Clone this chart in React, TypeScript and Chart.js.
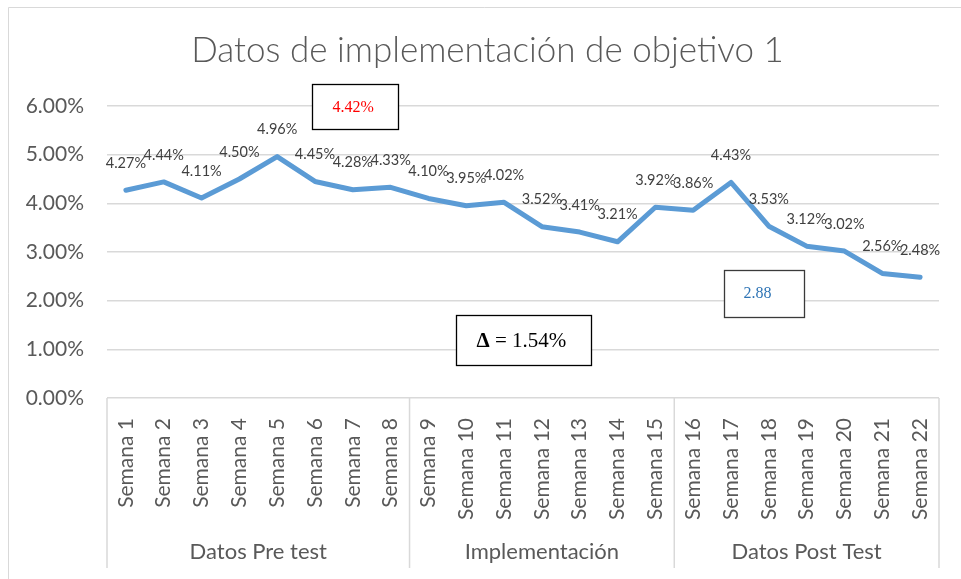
import React, { useEffect, useRef } from "react";
import { Chart, registerables } from "chart.js";

Chart.register(...registerables);

const TITLE = "Datos de implementación de objetivo 1";
const weeks = [
  "Semana 1", "Semana 2", "Semana 3", "Semana 4", "Semana 5", "Semana 6", "Semana 7", "Semana 8",
  "Semana 9", "Semana 10", "Semana 11", "Semana 12", "Semana 13", "Semana 14", "Semana 15",
  "Semana 16", "Semana 17", "Semana 18", "Semana 19", "Semana 20", "Semana 21", "Semana 22",
];
const values = [
  4.27, 4.44, 4.11, 4.5, 4.96, 4.45, 4.28, 4.33,
  4.1, 3.95, 4.02, 3.52, 3.41, 3.21, 3.92,
  3.86, 4.43, 3.53, 3.12, 3.02, 2.56, 2.48,
];
const groupNames = ["Datos Pre test", "Implementación", "Datos Post Test"];
const groupSizes = [8, 7, 7];
const yMin = 0;
const yMax = 6;
const yStep = 1;
const noteTexts = ["4.42%", "Δ", "= 1.54%", "2.88"];

const GRID = "#D9D9D9";
const AXIS_TEXT = "#595959";
const LABEL_TEXT = "#404040";
const SANS = "Lato, 'Open Sans', sans-serif";
const SERIF = "'Liberation Serif', 'Times New Roman', serif";

const fmt = (v: number) => v.toFixed(2) + "%";

const decorPlugin = {
  id: "decor",
  beforeDraw(chart: any) {
    const ctx = chart.ctx;
    ctx.save();
    ctx.fillStyle = "#ffffff";
    ctx.fillRect(0, 0, chart.width, chart.height);
    ctx.strokeStyle = GRID;
    ctx.lineWidth = 1;
    ctx.beginPath();
    ctx.moveTo(8.5, chart.height);
    ctx.lineTo(8.5, 7.5);
    ctx.lineTo(chart.width, 7.5);
    ctx.stroke();
    // title
    ctx.fillStyle = AXIS_TEXT;
    ctx.font = `300 35px ${SANS}`;
    ctx.textAlign = "center";
    ctx.textBaseline = "alphabetic";
    ctx.fillText(TITLE, 487.5, 62);
    ctx.restore();
  },
  afterDraw(chart: any) {
    const ctx = chart.ctx;
    const xs = chart.scales.x;
    const ys = chart.scales.y;
    const area = chart.chartArea;
    ctx.save();
    // group separators and labels
    const bounds: number[] = [area.left];
    let idx = 0;
    groupSizes.forEach((n) => {
      idx += n;
      bounds.push(idx >= weeks.length ? area.right : (xs.getPixelForValue(idx - 1) + xs.getPixelForValue(idx)) / 2);
    });
    ctx.strokeStyle = GRID;
    ctx.lineWidth = 1.5;
    bounds.forEach((b) => {
      ctx.beginPath();
      ctx.moveTo(b, area.bottom);
      ctx.lineTo(b, area.bottom + 170);
      ctx.stroke();
    });
    ctx.fillStyle = AXIS_TEXT;
    ctx.font = `22px ${SANS}`;
    ctx.textAlign = "center";
    ctx.textBaseline = "middle";
    groupNames.forEach((g, i) => {
      ctx.fillText(g, (bounds[i] + bounds[i + 1]) / 2, area.bottom + 154);
    });

    // data labels
    const meta = chart.getDatasetMeta(0);
    ctx.fillStyle = LABEL_TEXT;
    ctx.font = `14.5px ${SANS}`;
    meta.data.forEach((pt: any, i: number) => {
      ctx.fillText(fmt(values[i]), pt.x, pt.y - 27);
    });

    // note boxes (anchored in data space)
    const box = (cx: number, cy: number, w: number, h: number, stroke: string) => {
      const x = xs.getPixelForValue(cx);
      const y = ys.getPixelForValue(cy);
      const l = Math.round(x - w / 2) + 0.5;
      const t = Math.round(y - h / 2) + 0.5;
      ctx.fillStyle = "#ffffff";
      ctx.fillRect(l, t, w, h);
      ctx.strokeStyle = stroke;
      ctx.lineWidth = 1.3;
      ctx.strokeRect(l, t, w, h);
      return { l, t, w, h };
    };
    ctx.textAlign = "left";
    ctx.textBaseline = "middle";

    const b1 = box(6.06, 5.98, 86, 45, "#000000");
    ctx.fillStyle = "#FF0000";
    ctx.font = `16px ${SERIF}`;
    ctx.fillText(noteTexts[0], b1.l + 20, b1.t + b1.h / 2 + 1);

    const b2 = box(10.51, 1.19, 135, 50, "#000000");
    ctx.fillStyle = "#000000";
    ctx.font = `bold 21px ${SERIF}`;
    ctx.fillText(noteTexts[1], b2.l + 20, b2.t + b2.h / 2 + 1);
    const dw = ctx.measureText(noteTexts[1]).width;
    ctx.font = `21px ${SERIF}`;
    ctx.fillText(" " + noteTexts[2], b2.l + 20 + dw, b2.t + b2.h / 2 + 1);

    const b3 = box(16.87, 2.145, 80, 47, "#3A3A3A");
    ctx.fillStyle = "#2E74B5";
    ctx.font = `16px ${SERIF}`;
    ctx.fillText(noteTexts[3], b3.l + 19, b3.t + b3.h / 2);
    ctx.restore();
  },
};

export default function App() {
  const ref = useRef<HTMLCanvasElement | null>(null);
  useEffect(() => {
    if (!ref.current) return;
    const chart = new Chart(ref.current, {
      type: "line",
      data: {
        labels: weeks,
        datasets: [
          {
            data: values,
            borderColor: "#5B9BD5",
            backgroundColor: "#5B9BD5",
            borderWidth: 5,
            pointRadius: 0,
            pointHoverRadius: 0,
            tension: 0,
            borderJoinStyle: "round",
            borderCapStyle: "round",
          },
        ],
      },
      options: {
        responsive: false,
        animation: false,
        devicePixelRatio: 1,
        layout: { padding: { left: 0, top: 106, right: 22, bottom: 0 } },
        plugins: { legend: { display: false }, title: { display: false }, tooltip: { enabled: false } },
        scales: {
          x: {
            offset: true,
            grid: { display: false, drawTicks: false, offset: true },
            border: { display: false },
            ticks: {
              autoSkip: false,
              minRotation: 90,
              maxRotation: 90,
              padding: 20,
              color: AXIS_TEXT,
              font: { family: SANS, size: 21 },
            },
            afterFit: (s: any) => {
              s.height = 181;
              s.paddingLeft = 0;
              s.paddingRight = 0;
            },
          },
          y: {
            min: yMin,
            max: yMax,
            grid: { color: GRID, lineWidth: 1.5, drawTicks: false },
            border: { display: false },
            ticks: {
              stepSize: yStep,
              padding: 23,
              color: AXIS_TEXT,
              font: { family: SANS, size: 21 },
              callback: (v: any) => fmt(Number(v)),
            },
            afterFit: (s: any) => {
              s.width = 107;
              s.paddingTop = 0;
              s.paddingBottom = 0;
            },
          },
        },
      },
      plugins: [decorPlugin],
    });
    return () => chart.destroy();
  }, []);
  return (
    <div style={{ position: "absolute", left: 0, top: 0, width: 961, height: 579, background: "#fff" }}>
      <canvas ref={ref} width={961} height={579} style={{ display: "block" }} />
    </div>
  );
}
